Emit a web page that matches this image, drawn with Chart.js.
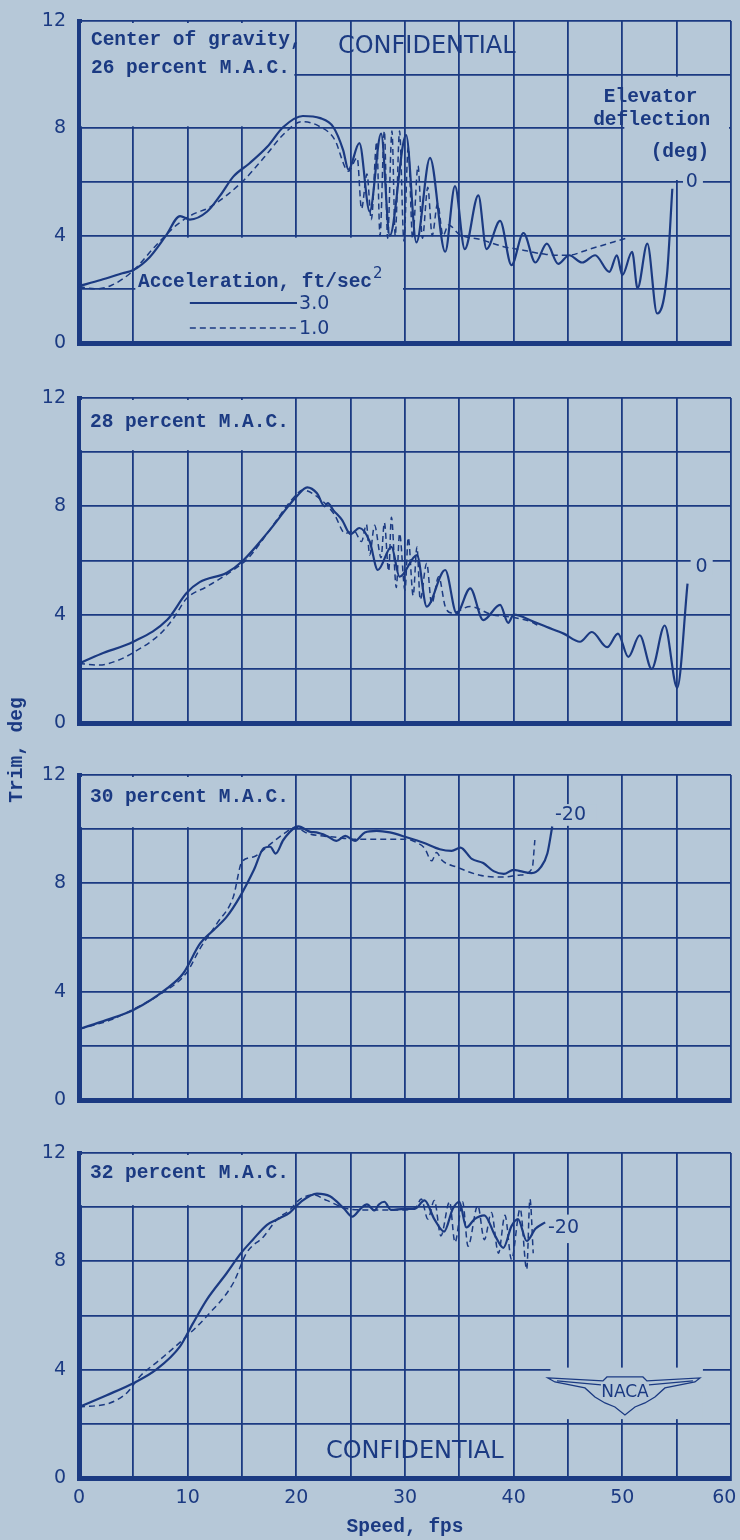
<!DOCTYPE html>
<html lang="en">
<head>
  <meta charset="UTF-8">
  <title>Trim vs speed, four CG positions</title>
  <script src="https://cdn.jsdelivr.net/npm/chart.js"></script>
  <style>
    body {
      margin: 0;
      background-color: #b6c8d8;
    }
    .sheet {
      position: relative;
      width: 740px;
      height: 1540px;
      overflow: hidden;
      background-color: #b6c8d8;
    }
    .sheet canvas {
      position: absolute;
      left: 0;
    }
    .ytitle {
      position: absolute;
      left: -82px;
      top: 738px;
      width: 200px;
      height: 24px;
      line-height: 24px;
      text-align: center;
      transform: rotate(-90deg);
      font: bold 19.5px "Liberation Mono", monospace;
      color: #1b3a82;
    }
  </style>
</head>
<body>
  <div class="sheet">
    <canvas id="cg26" width="740" height="346" style="top:7px"></canvas>
    <canvas id="cg28" width="740" height="349" style="top:384px"></canvas>
    <canvas id="cg30" width="740" height="349" style="top:761px"></canvas>
    <canvas id="cg32" width="740" height="401" style="top:1139px"></canvas>
    <div class="ytitle">Trim, deg</div>
  </div>

  <script>
    // tick labels and text
    const xTickValues = [0, 10, 20, 30, 40, 50, 60];
    const yTickValues = [0, 4, 8, 12];
    const panelLabels = ['26 percent M.A.C.', '28 percent M.A.C.', '30 percent M.A.C.', '32 percent M.A.C.'];
    const elevatorLabels = ['0', '0', '-20', '-20'];
    const accelLabels = ['3.0', '1.0'];

    // [speed fps, trim deg]  solid = 3.0 ft/sec2, dashed = 1.0 ft/sec2
    const cg26Solid = [[0,2.12],[2,2.35],[4,2.6],[5,2.72],[6.5,3.2],[8,4.0],[9.3,4.73],[10.2,4.6],[11.8,4.9],[13,5.5],[14.2,6.2],[15.7,6.7],[17.3,7.3],[18.8,8.05],[20.6,8.46],[22.2,8.38],[23.4,8.05],[24.3,7.2],[24.8,6.46],[25.8,7.45],[26.75,4.9],[27.8,7.8],[28.6,4.0],[30.1,7.75],[31.05,3.75],[32.3,6.9],[33.7,3.4],[34.6,5.85],[35.5,3.5],[36.75,5.5],[37.5,3.5],[38.75,4.55],[39.8,2.9],[40.9,4.1],[42.0,3.0],[43.05,3.7],[44.1,2.95],[45.1,3.27],[46.3,3.0],[47.5,3.27],[48.8,2.65],[49.5,3.27],[50.0,2.53],[50.9,3.4],[51.4,2.04],[52.3,3.7],[53.2,1.1],[54.1,2.5],[54.6,5.75]];
    const cg26Dashed = [[0,2.1],[1.5,2.02],[3,2.15],[5,2.7],[7,3.6],[9,4.4],[10.5,4.8],[12,5.05],[15,6.0],[17,6.9],[19,7.85],[20.5,8.25],[22,8.1],[23.5,7.6],[24.8,6.4],[25.6,6.9],[26.0,5.0],[26.5,6.3],[26.9,4.6],[27.4,7.5],[27.7,4.0],[28.1,7.9],[28.4,3.9],[28.8,7.9],[29.1,4.0],[29.5,7.9],[29.9,3.8],[30.3,7.3],[30.7,3.9],[31.2,6.6],[31.6,3.9],[32.1,5.8],[32.5,4.0],[33.0,5.2],[33.5,4.0],[34,4.4],[35,4.05],[37,3.85],[39,3.6],[41,3.45],[43,3.3],[45,3.27],[47,3.5],[50.3,3.9]];

    const cg28Solid = [[0,2.2],[2,2.55],[5,3.0],[8.1,3.8],[9.9,4.8],[11.1,5.2],[13.6,5.55],[15.1,6.0],[17.3,7.0],[20,8.35],[21,8.7],[21.9,8.48],[22.6,8.0],[22.9,8.12],[23.4,7.86],[24.2,7.5],[25,6.97],[25.8,7.2],[26.75,6.7],[27.5,5.65],[28.75,6.5],[29.5,5.4],[31.1,6.2],[32.0,4.3],[33.7,5.65],[34.75,4.05],[36.0,4.97],[37.2,3.8],[38.75,4.36],[39.5,3.7],[40,4.0],[41.8,3.75],[43,3.55],[44.6,3.3],[46.1,3.0],[47.2,3.36],[48.6,2.8],[49.6,3.3],[50.55,2.44],[51.6,3.24],[52.7,2.0],[53.9,3.6],[55.05,1.3],[56.0,5.15]];
    const cg28Dashed = [[0,2.2],[1.9,2.14],[3.5,2.3],[5,2.6],[7.5,3.3],[8.7,3.87],[9.9,4.6],[11.75,5.03],[14.2,5.65],[15.6,6.1],[17.5,7.1],[19.7,8.3],[20.6,8.6],[22.1,8.3],[23.5,7.7],[24.5,7.0],[25.3,7.1],[26,6.7],[26.45,7.33],[26.75,6.2],[27.2,7.3],[27.8,6.1],[28.1,7.4],[28.5,5.6],[28.75,7.6],[29.2,5.0],[29.5,7.0],[30,4.9],[30.3,6.85],[30.75,4.7],[31.1,6.5],[31.4,4.55],[32,5.9],[32.45,4.4],[33.1,5.4],[33.7,4.3],[34.3,4.06],[36,4.3],[38,4.0],[40,3.9],[41.8,3.7],[42.4,3.55]];

    const cg30Solid = [[0,2.62],[2.5,2.95],[5,3.32],[8.1,4.12],[9.6,4.68],[11.15,5.78],[12.4,6.28],[13.6,6.77],[14.8,7.5],[16.1,8.5],[17.0,9.3],[17.6,9.35],[18.1,9.1],[18.8,9.6],[19.9,10.07],[20.2,10.1],[21.3,9.9],[21.85,9.88],[22.8,9.75],[23.7,9.57],[24.5,9.75],[25.4,9.57],[26.3,9.88],[27.4,9.94],[28.6,9.88],[30.15,9.7],[31.7,9.5],[33.2,9.26],[34.3,9.2],[35.1,9.32],[36.15,8.9],[37.2,8.75],[38.15,8.45],[39.1,8.35],[40,8.5],[40.6,8.45],[41.65,8.38],[42.5,8.6],[43.1,9.1],[43.55,10.1]];
    const cg30Dashed = [[0,2.62],[2.86,2.95],[5,3.35],[7.46,3.9],[9.9,4.7],[11.15,5.6],[12.7,6.52],[14.2,7.5],[15.0,8.8],[16.1,8.98],[17.3,9.35],[19.1,9.9],[19.9,10.07],[21,9.85],[23.7,9.7],[25.5,9.63],[28,9.63],[30.15,9.63],[31.1,9.5],[31.8,9.3],[32.45,8.83],[32.9,9.14],[33.4,8.85],[34.75,8.6],[36.9,8.3],[39,8.23],[40.5,8.3],[41.7,8.55],[41.95,9.6]];

    const cg32Solid = [[0,2.62],[2.5,3.05],[5,3.5],[7.1,4.0],[9.3,4.86],[10.5,5.72],[11.75,6.58],[13.6,7.57],[14.8,8.25],[16.0,8.8],[17.3,9.35],[18.5,9.6],[19.4,9.8],[20.4,10.19],[21.9,10.5],[23.1,10.4],[24.4,9.94],[25.15,9.65],[25.9,9.94],[26.5,10.1],[27.2,9.88],[27.6,10.1],[28.1,10.2],[28.7,9.9],[29.9,9.94],[30.9,9.94],[31.8,10.25],[32.7,9.56],[33.6,9.1],[34.4,9.94],[35.0,10.2],[35.65,9.25],[36.4,9.56],[37.3,9.7],[38.3,8.94],[39.05,8.5],[39.8,9.3],[40.4,9.56],[41.2,8.75],[42,9.2],[42.9,9.44]];
    const cg32Dashed = [[0,2.62],[2.85,2.77],[4.4,3.14],[5.6,3.75],[7.45,4.37],[9.9,5.23],[11.75,5.97],[14.2,7.2],[15.4,8.3],[17,8.92],[18.2,9.54],[19.4,9.9],[20.3,10.28],[21.6,10.45],[22.8,10.25],[24.7,9.94],[26,9.9],[28,9.9],[30,9.9],[31,10.0],[31.5,10.3],[32.1,9.56],[32.7,10.25],[33.3,8.94],[34.1,10.2],[34.6,8.7],[35.3,10.2],[35.8,8.56],[36.7,10.06],[37.3,8.8],[37.95,9.8],[38.6,8.3],[39.2,9.7],[39.8,8.06],[40.6,9.94],[41.2,7.7],[41.5,10.3],[41.8,8.3]];

    const INK = '#1b3a82';
    const PAPER = '#b6c8d8';
    const MONO = 'bold 19.5px "Liberation Mono", monospace';
    const SANS = '19px "DejaVu Sans", sans-serif';
    const BIG = '24px "DejaVu Sans", sans-serif';

    // blanks out grid under the lettering, then draws the lettering
    const notesPlugin = {
      id: 'panelNotes',
      beforeDatasetsDraw(chart, args, opts) {
        const ctx = chart.ctx;
        const px = v => chart.scales.x.getPixelForValue(v);
        const py = v => chart.scales.y.getPixelForValue(v);
        ctx.save();
        ctx.fillStyle = PAPER;
        (opts.masks || []).forEach(m => {
          const x1 = px(m[0]) + 2, x2 = px(m[1]) - 2;
          const y1 = py(m[3]) + 2, y2 = py(m[2]) - 2;
          ctx.fillRect(x1, y1, x2 - x1, y2 - y1);
        });

        ctx.strokeStyle = INK;
        (opts.keys || []).forEach(k => {
          ctx.lineWidth = k.dash ? 1.5 : 2;
          ctx.setLineDash(k.dash ? [6, 4] : []);
          ctx.beginPath();
          ctx.moveTo(px(k.x1), py(k.y));
          ctx.lineTo(px(k.x2), py(k.y));
          ctx.stroke();
        });
        ctx.setLineDash([]);

        if (opts.logo) {
          const cx = px(opts.logo.x), cy = py(opts.logo.y);
          const wing = [[-77,-15],[-22,-12],[-18,-16],[18,-16],[22,-12],[75,-15],[70,-11],[40,-5],[30,4],[20,10],[10,14],[0,22],[-10,14],[-20,10],[-30,4],[-40,-5],[-70,-11]];
          ctx.lineWidth = 1.3;
          ctx.beginPath();
          wing.forEach((p, i) => i ? ctx.lineTo(cx + p[0], cy + p[1]) : ctx.moveTo(cx + p[0], cy + p[1]));
          ctx.closePath();
          ctx.stroke();
          ctx.beginPath();
          ctx.moveTo(cx - 68, cy - 12); ctx.lineTo(cx - 24, cy - 8);
          ctx.moveTo(cx + 68, cy - 12); ctx.lineTo(cx + 24, cy - 8);
          ctx.stroke();
          ctx.fillStyle = INK;
          ctx.font = '17px "DejaVu Sans", sans-serif';
          ctx.textAlign = 'center';
          ctx.textBaseline = 'middle';
          ctx.fillText('NACA', cx, cy);
        }

        ctx.fillStyle = INK;
        ctx.textBaseline = 'middle';
        (opts.texts || []).forEach(t => {
          ctx.font = t.font;
          ctx.textAlign = t.align || 'left';
          ctx.fillText(t.text, px(t.x), py(t.y));
          if (t.sup) {
            const w = ctx.measureText(t.text).width;
            ctx.font = '15px "DejaVu Sans", sans-serif';
            ctx.textAlign = 'left';
            ctx.fillText(t.sup, px(t.x) + w + 1, py(t.y) - 8);
          }
        });
        ctx.restore();
      }
    };

    // last label sits against the page edge, so it is padded to the right
    function xLabel(v) {
      if (!xTickValues.includes(v)) return '';
      return v === 60 ? '60\u2002\u2009' : String(v);
    }

    function buildPanel(id, solid, dashed, notes, isBottom, bottomRoom) {
      const toPoints = arr => arr.map(p => ({ x: p[0], y: p[1] }));
      new Chart(document.getElementById(id), {
        type: 'line',
        data: {
          datasets: [
            {
              label: accelLabels[0],
              data: toPoints(solid),
              borderColor: INK,
              borderWidth: 2.2,
              pointRadius: 0,
              fill: false,
              cubicInterpolationMode: 'monotone'
            },
            {
              label: accelLabels[1],
              data: toPoints(dashed),
              borderColor: INK,
              borderWidth: 1.5,
              borderDash: [6, 4],
              pointRadius: 0,
              fill: false,
              cubicInterpolationMode: 'monotone'
            }
          ]
        },
        options: {
          responsive: false,
          animation: false,
          devicePixelRatio: 1,
          layout: { padding: { left: 0, right: 9, top: 14, bottom: 0 }, autoPadding: false },
          plugins: {
            legend: { display: false },
            tooltip: { enabled: false },
            panelNotes: notes
          },
          scales: {
            x: {
              type: 'linear',
              min: 0,
              max: 60,
              grid: { color: INK, lineWidth: 1.8, drawTicks: false },
              border: { color: INK, width: 5 },
              ticks: {
                display: isBottom,
                stepSize: 5,
                autoSkip: false,
                maxRotation: 0,
                padding: 9,
                color: INK,
                font: { family: '"DejaVu Sans", sans-serif', size: 19 },
                callback: xLabel
              },
              title: {
                display: isBottom,
                text: 'Speed, fps',
                color: INK,
                font: { family: '"Liberation Mono", monospace', size: 19.5, weight: 'bold' },
                padding: { top: 0, bottom: 1 }
              },
              afterFit: s => {
                s.height = bottomRoom;
                s.paddingLeft = 0;
                s.paddingRight = 0;
              }
            },
            y: {
              min: 0,
              max: 12,
              grid: { color: INK, lineWidth: 1.8, drawTicks: false },
              border: { color: INK, width: 5 },
              ticks: {
                stepSize: 2,
                padding: 13,
                color: INK,
                font: { family: '"DejaVu Sans", sans-serif', size: 19 },
                callback: v => yTickValues.includes(v) ? String(v) : ''
              },
              afterFit: s => {
                s.width = 79;
                s.paddingTop = 0;
                s.paddingBottom = 0;
              }
            }
          }
        },
        plugins: [notesPlugin]
      });
    }

    buildPanel('cg26', cg26Solid, cg26Dashed, {
      masks: [[0, 20, 8, 12], [5, 30, 0, 4], [50, 60, 6, 10], [55.4, 57.6, 5.6, 6.4]],
      keys: [{ x1: 10.2, x2: 20.06, y: 1.49 }, { x1: 10.2, x2: 20.06, y: 0.56, dash: true }],
      texts: [
        { text: 'Center of gravity,', x: 1.1, y: 11.29, font: MONO },
        { text: '26 percent M.A.C.', x: 1.1, y: 10.25, font: MONO },
        { text: 'CONFIDENTIAL', x: 32.0, y: 11.05, font: BIG, align: 'center' },
        { text: 'Elevator', x: 52.6, y: 9.17, font: MONO, align: 'center' },
        { text: 'deflection', x: 52.7, y: 8.31, font: MONO, align: 'center' },
        { text: '(deg)', x: 55.3, y: 7.12, font: MONO, align: 'center' },
        { text: elevatorLabels[0], x: 56.4, y: 6.0, font: SANS, align: 'center' },
        { text: 'Acceleration, ft/sec', sup: '2', x: 5.43, y: 2.27, font: MONO },
        { text: accelLabels[0], x: 20.25, y: 1.45, font: SANS },
        { text: accelLabels[1], x: 20.25, y: 0.52, font: SANS }
      ]
    }, false, 10);

    buildPanel('cg28', cg28Solid, cg28Dashed, {
      masks: [[0, 20, 10, 12], [56.1, 58.5, 5.4, 6.3]],
      texts: [
        { text: panelLabels[1], x: 1.01, y: 11.12, font: MONO },
        { text: elevatorLabels[1], x: 57.3, y: 5.76, font: SANS, align: 'center' }
      ]
    }, false, 10);

    buildPanel('cg30', cg30Solid, cg30Dashed, {
      masks: [[0, 20, 10, 12], [44.2, 47.8, 10.05, 11.0]],
      texts: [
        { text: panelLabels[2], x: 1.01, y: 11.19, font: MONO },
        { text: elevatorLabels[2], x: 43.8, y: 10.52, font: SANS }
      ]
    }, false, 10);

    buildPanel('cg32', cg32Solid, cg32Dashed, {
      masks: [[0, 20, 10, 12], [42.8, 46.6, 8.6, 9.8], [43.2, 57.6, 2.1, 4.15]],
      logo: { x: 50.24, y: 3.14 },
      texts: [
        { text: panelLabels[3], x: 1.01, y: 11.26, font: MONO },
        { text: elevatorLabels[3], x: 43.16, y: 9.23, font: SANS },
        { text: 'CONFIDENTIAL', x: 30.9, y: 0.96, font: BIG, align: 'center' }
      ]
    }, true, 62);
  </script>
</body>
</html>
